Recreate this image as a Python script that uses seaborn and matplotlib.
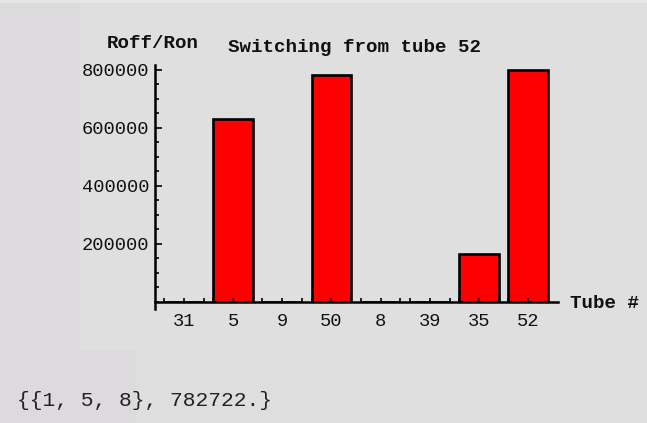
import numpy as np
import pandas as pd
import matplotlib
matplotlib.use('Agg')
import matplotlib.pyplot as plt
from matplotlib.patches import Rectangle
from matplotlib.ticker import MultipleLocator, FixedLocator, FuncFormatter
import seaborn as sns

# data
tubes = ['31', '5', '9', '50', '8', '39', '35', '52']
ratios = [0, 632000, 0, 782722, 0, 0, 165000, 799000]
y_major = [200000, 400000, 600000, 800000]
title = 'Switching from tube 52'
ylabel = 'Roff/Ron'
xlabel = 'Tube #'
result_text = '{{1, 5, 8}, 782722.}'

mono = ['Liberation Mono', 'DejaVu Sans Mono']

W, H = 647, 423
fig = plt.figure(figsize=(W / 100, H / 100), dpi=100)
fig.patch.set_facecolor('#dcdadc')

# background panels (pixel coords -> figure fraction), behind the axes
def px_rect(x0, y0, x1, y1, color):
    fig.patches.append(Rectangle((x0 / W, 1 - y1 / H), (x1 - x0) / W, (y1 - y0) / H,
                                 transform=fig.transFigure, facecolor=color,
                                 edgecolor='none', zorder=-5))

px_rect(80, 3, W, 350, '#dfdfdf')
px_rect(136, 350, W, H, '#dedede')
px_rect(0, 0, W, 3, '#e6e6e6')

# axes placement: y axis at x=155, baseline at y=302, top at y=65
ax = fig.add_axes([155 / W, 1 - 302 / H, (558 - 155) / W, (302 - 65) / H])
ax.set_facecolor('none')

df = pd.DataFrame({'tube': tubes, 'ratio': ratios})
sns.barplot(data=df, x='tube', y='ratio', order=tubes, color='#ff0000',
            saturation=1, edgecolor='black', linewidth=1.9, width=0.81, ax=ax)

ax.set_xlim(-0.59, len(tubes) - 1 + 0.61)
ax.set_ylim(0, 817000)

for side in ['top', 'right']:
    ax.spines[side].set_visible(False)
for side in ['left', 'bottom']:
    ax.spines[side].set_linewidth(1.8)
    ax.spines[side].set_color('black')
ax.spines['left'].set_bounds(-24000, 817000)

ax.yaxis.set_major_locator(FixedLocator(y_major))
ax.yaxis.set_minor_locator(MultipleLocator(50000))
ax.yaxis.set_major_formatter(FuncFormatter(lambda v, p: f'{int(v)}'))
ax.xaxis.set_minor_locator(FixedLocator(
    [i + d for i in range(len(tubes)) for d in (-0.405, 0.405)]))

ax.tick_params(axis='y', which='major', direction='in', length=5, width=1.2, pad=4)
ax.tick_params(axis='y', which='minor', direction='in', length=3, width=1.2)
ax.tick_params(axis='x', which='major', direction='in', length=3, width=1.2, pad=8)
ax.tick_params(axis='x', which='minor', direction='in', length=3, width=1.2)

for lab in ax.get_yticklabels() + ax.get_xticklabels():
    lab.set_family(mono)
    lab.set_fontsize(13.5)
    lab.set_color('#111111')

ax.set_xlabel('')
ax.set_ylabel('')

fig.text(355 / W, 1 - 47 / H, title, ha='center', va='center', family=mono,
         fontsize=13.8, fontweight='bold', color='#111111')
fig.text(107 / W, 1 - 43 / H, ylabel, ha='left', va='center', family=mono,
         fontsize=13.8, fontweight='bold', color='#111111')
fig.text(570 / W, 1 - 303 / H, xlabel, ha='left', va='center', family=mono,
         fontsize=13.8, fontweight='bold', color='#111111')
fig.text(17 / W, 1 - 400 / H, result_text, ha='left', va='center', family=mono,
         fontsize=15.3, color='#222222')

fig.savefig('out.png', dpi=100, facecolor=fig.get_facecolor())
